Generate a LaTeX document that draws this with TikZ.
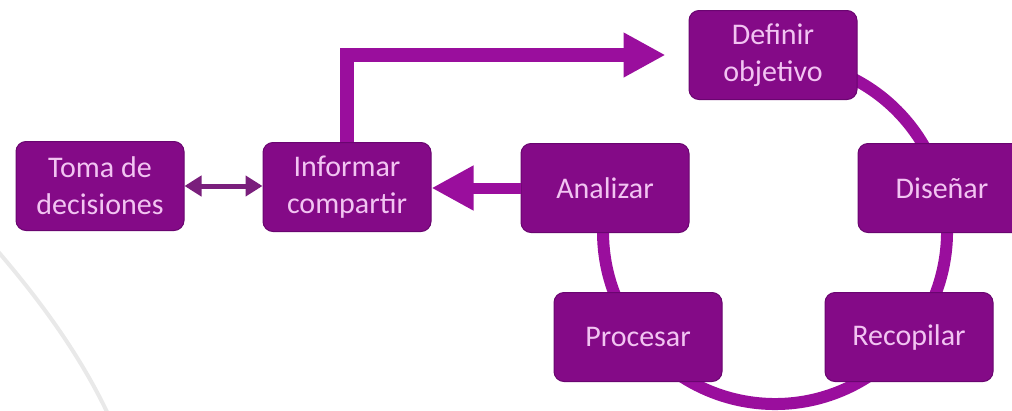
\documentclass[tikz,border=0pt]{standalone}
\usepackage{fontspec}
\setmainfont{Carlito}
\usetikzlibrary{arrows.meta,calc}
\definecolor{boxfill}{HTML}{840A87}
\definecolor{boxedge}{HTML}{6A0570}
\definecolor{boxtext}{HTML}{F2C4F2}
\definecolor{flow}{HTML}{9A0E9D}
\definecolor{dbl}{HTML}{7A1F7C}
\definecolor{faint}{HTML}{E9E9E9}
\tikzset{
  stepbox/.style={rounded corners=10pt, fill=boxfill, draw=boxedge, line width=1pt,
    minimum width=168pt, minimum height=89pt, inner sep=0pt, align=center,
    text=boxtext, font=\fontsize{30}{37}\selectfont},
  ringline/.style={draw=flow, line width=12pt},
  bigarrow/.style={draw=flow, line width=14pt, line join=miter,
    -{Triangle[length=42pt,width=42pt]}},
  backarrow/.style={draw=flow, line width=11pt,
    -{Triangle[length=42pt,width=42pt]}},
  dblarrow/.style={draw=dbl, line width=5pt,
    {Triangle[length=17pt,width=20pt]}-{Triangle[length=17pt,width=20pt]}},
}
\begin{document}
\begin{tikzpicture}[x=1pt,y=-1pt]
\useasboundingbox (0,0) rectangle (1012,410);
% faint decorative arc
\draw[faint, line width=4pt] (-5,248) .. controls (40,300) and (80,355) .. (108,414);
% cycle ring (Definir -> Diseñar -> Recopilar -> Procesar -> Analizar)
\coordinate (ring) at (775,232);
\draw[ringline] ($(ring)+(-80:172)$) arc[start angle=-80, end angle=192, radius=172];
% boxes
\node[stepbox] (toma) at (100,186) {Toma de\\decisiones};
\node[stepbox] (inf) at (347,187) {Informar\\compartir};
\node[stepbox] (ana) at (605,188) {Analizar};
\node[stepbox] (def) at (773,55) {Definir\\objetivo};
\node[stepbox] (dis) at (942,188) {Diseñar};
\node[stepbox] (pro) at (638,337) {Procesar};
\node[stepbox] (rec) at (909,337) {Recopilar};
% connectors
\draw[bigarrow, shorten >=23pt] (inf.north) |- (def.west);
\draw[backarrow] (ana.west) -- (ana.west -| inf.east);
\draw[dblarrow] (toma.east) -- (toma.east -| inf.west);
\end{tikzpicture}
\end{document}
